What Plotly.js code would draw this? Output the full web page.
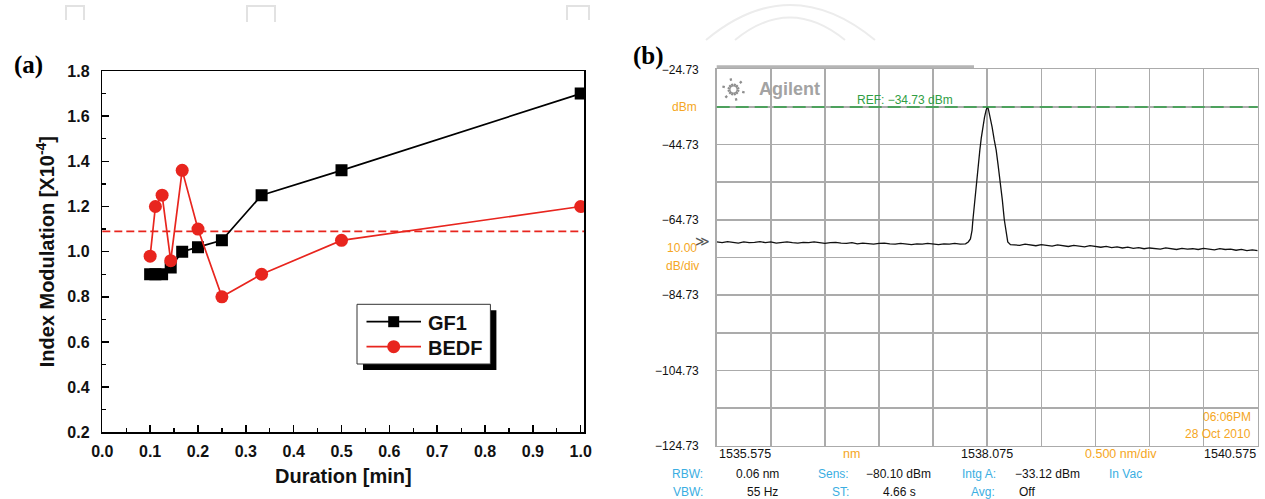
<!DOCTYPE html>
<html>
<head>
<meta charset="utf-8">
<script src="https://cdn.plot.ly/plotly-3.0.1.min.js"></script>
<style>html,body{margin:0;padding:0;background:#fff;}#chart{width:1265px;height:499px;}</style>
</head>
<body>
<div id="chart"></div>
<script>
// ---------- Panel (a) data ----------
const durationMin = [0.1, 0.111, 0.125, 0.143, 0.167, 0.2, 0.25, 0.333, 0.5, 1.0];
const gf1Index    = [0.90, 0.90, 0.90, 0.93, 1.00, 1.02, 1.05, 1.25, 1.36, 1.70];
const bedfIndex   = [0.98, 1.20, 1.25, 0.96, 1.36, 1.10, 0.80, 0.90, 1.05, 1.20];
const refIndexLevel = 1.09;
const seriesNames = ['GF1', 'BEDF'];

// ---------- Panel (b) data (OSA trace) ----------
const specWl = [
 1535.575,1535.625,1535.675,1535.725,1535.775,1535.825,1535.875,1535.925,1535.975,1536.025,
 1536.075,1536.125,1536.175,1536.225,1536.275,1536.325,1536.375,1536.425,1536.475,1536.525,
 1536.575,1536.625,1536.675,1536.725,1536.775,1536.825,1536.875,1536.925,1536.975,1537.025,
 1537.075,1537.125,1537.175,1537.225,1537.275,1537.325,1537.375,1537.425,1537.475,1537.525,
 1537.575,1537.625,1537.675,1537.725,1537.775,1537.825,1537.875,
 1537.900,1537.920,1537.935,1537.943,1537.950,1537.958,1537.970,1537.981,1537.995,1538.007,
 1538.020,1538.035,1538.050,1538.065,1538.075,1538.085,1538.100,1538.120,1538.140,1538.158,
 1538.175,1538.196,1538.215,1538.233,1538.250,1538.265,1538.290,
 1538.325,1538.375,1538.425,1538.475,1538.525,1538.575,1538.625,1538.675,1538.725,1538.775,
 1538.825,1538.875,1538.925,1538.975,1539.025,1539.075,1539.125,1539.175,1539.225,1539.275,
 1539.325,1539.375,1539.425,1539.475,1539.525,1539.575,1539.625,1539.675,1539.725,1539.775,
 1539.825,1539.875,1539.925,1539.975,1540.025,1540.075,1540.125,1540.175,1540.225,1540.275,
 1540.325,1540.375,1540.425,1540.475,1540.525,1540.575
];
const specDbm = [
 -70.6,-70.8,-70.5,-70.7,-70.9,-70.6,-70.8,-70.7,-70.5,-70.8,
 -70.6,-70.9,-70.7,-70.6,-70.8,-70.9,-70.7,-70.8,-70.6,-70.9,
 -71.0,-70.8,-70.7,-70.9,-71.0,-70.8,-71.1,-70.9,-71.0,-71.2,
 -71.0,-70.9,-71.1,-71.2,-71.0,-71.1,-71.3,-71.1,-71.2,-71.0,
 -71.2,-71.3,-71.1,-71.2,-71.0,-71.2,-71.1,
 -70.6,-69.8,-67.5,-64.7,-62.5,-61.3,-57.5,-54.6,-48.5,-46.2,
 -43.0,-40.0,-37.5,-35.6,-34.8,-35.2,-37.0,-40.0,-43.5,-46.2,
 -50.0,-54.6,-59.5,-64.7,-68.5,-70.6,-71.3,
 -71.3,-71.5,-71.2,-71.4,-71.6,-71.3,-71.5,-71.7,-71.4,-71.6,
 -71.8,-71.5,-71.7,-71.9,-71.6,-71.8,-72.0,-71.8,-72.1,-71.9,
 -72.2,-72.0,-72.3,-72.1,-72.4,-72.2,-72.3,-72.5,-72.2,-72.4,
 -72.6,-72.3,-72.5,-72.4,-72.6,-72.3,-72.5,-72.7,-72.4,-72.6,
 -72.5,-72.8,-72.6,-72.9,-72.7,-72.9
];
const refDbm = -34.73;
const wlStart = 1535.575, wlStop = 1540.575, wlPerDiv = 0.5;
const dbmBottom = -124.73, dbmTop = -24.73, dbPerDiv = 10;
const wlLabelVals = [1535.575, 1538.075, 1540.575];
const wlLabelText = ['1535.575', '1538.075', '1540.575'];

// ---------- helpers ----------
const W = 1265, H = 499;
const px = x => x / W;
const py = y => 1 - y / H;

const SANS = 'Liberation Sans, Arial, Helvetica, sans-serif';
const RED = '#e8251e';
const CYAN = '#3aaee2';
const ORANGE = '#f5a623';
const GRID = '#ababab';
const GREEN = '#2f9e44';
const seriesColors = ['#000', RED];

const traces = [
  {x: durationMin, y: gf1Index, name: seriesNames[0], xaxis: 'x', yaxis: 'y', type: 'scatter', mode: 'lines+markers',
   line: {color: seriesColors[0], width: 1.7}, marker: {symbol: 'square', size: 12, color: seriesColors[0]}, showlegend: false},
  {x: durationMin, y: bedfIndex, name: seriesNames[1], xaxis: 'x', yaxis: 'y', type: 'scatter', mode: 'lines+markers',
   line: {color: seriesColors[1], width: 1.7}, marker: {symbol: 'circle', size: 13, color: seriesColors[1]}, showlegend: false},
  {x: specWl, y: specDbm, name: 'Spectrum', xaxis: 'x2', yaxis: 'y2', type: 'scatter', mode: 'lines',
   line: {color: '#111', width: 1.3}, showlegend: false, hoverinfo: 'x+y'}
];

const tickFontA = {family: SANS, size: 16, color: '#111', weight: 'bold'};
const titleFontA = {family: SANS, size: 20, color: '#111', weight: 'bold'};

const shapes = [
  // panel (a) reference level (dashed red)
  {type: 'line', xref: 'x domain', yref: 'y', x0: 0, x1: 1, y0: refIndexLevel, y1: refIndexLevel,
   line: {color: RED, width: 1.6, dash: '8px,4px'}, layer: 'below'},
  // panel (b) REF line (green dashed)
  {type: 'line', xref: 'x2 domain', yref: 'y2', x0: 0, x1: 1, y0: refDbm, y1: refDbm,
   line: {color: GREEN, width: 1.6, dash: '13px,6px'}, layer: 'above'},
  // gray bar at top of OSA screen
  {type: 'rect', xref: 'paper', yref: 'paper', x0: px(716.7), x1: px(974), y0: py(68), y1: py(65.3),
   fillcolor: '#b5b5b5', line: {width: 0}},
  // faint watermark outlines at top
  {type: 'path', xref: 'paper', yref: 'paper', path: `M ${px(66)} ${py(20)} L ${px(66)} ${py(6)} L ${px(84)} ${py(6)} L ${px(84)} ${py(20)}`, line: {color: '#e2e2e2', width: 2}, layer: 'below'},
  {type: 'path', xref: 'paper', yref: 'paper', path: `M ${px(247)} ${py(22)} L ${px(247)} ${py(6)} L ${px(275)} ${py(6)} L ${px(275)} ${py(22)}`, line: {color: '#e2e2e2', width: 2}, layer: 'below'},
  {type: 'path', xref: 'paper', yref: 'paper', path: `M ${px(567)} ${py(20)} L ${px(567)} ${py(6)} L ${px(589)} ${py(6)} L ${px(589)} ${py(20)}`, line: {color: '#e2e2e2', width: 2}, layer: 'below'},
  {type: 'path', xref: 'paper', yref: 'paper', path: `M ${px(706)} ${py(40)} Q ${px(790)} ${py(-30)} ${px(875)} ${py(40)}`, line: {color: '#ececec', width: 2}, layer: 'below'},
  {type: 'path', xref: 'paper', yref: 'paper', path: `M ${px(735)} ${py(40)} Q ${px(790)} ${py(-5)} ${px(845)} ${py(40)}`, line: {color: '#ececec', width: 2}, layer: 'below'}
];

// ---------- legend box (panel a), drawn with shadow as in the reference ----------
const LG = {x0: 357, y0: 304.3, x1: 490.4, y1: 364, shadow: 6};
shapes.push({type: 'rect', xref: 'paper', yref: 'paper', x0: px(LG.x0 + LG.shadow), x1: px(LG.x1 + LG.shadow),
  y0: py(LG.y1 + LG.shadow), y1: py(LG.y0 + LG.shadow), fillcolor: '#000', line: {width: 0}, layer: 'above'});
shapes.push({type: 'rect', xref: 'paper', yref: 'paper', x0: px(LG.x0), x1: px(LG.x1), y0: py(LG.y1), y1: py(LG.y0),
  fillcolor: '#fff', line: {color: '#333', width: 1}, layer: 'above'});
const legendRows = [321.7, 346.7];
const legendSymbols = ['square', 'circle'];
const ann = [];
seriesNames.forEach((name, i) => {
  const yy = legendRows[i];
  shapes.push({type: 'line', xref: 'paper', yref: 'paper', x0: px(366.5), x1: px(421), y0: py(yy), y1: py(yy),
    line: {color: seriesColors[i], width: 1.7}, layer: 'above'});
  const half = legendSymbols[i] === 'square' ? 5.5 : 6.5;
  shapes.push({type: legendSymbols[i] === 'square' ? 'rect' : 'circle', xref: 'paper', yref: 'paper',
    x0: px(393.7 - half), x1: px(393.7 + half), y0: py(yy + half), y1: py(yy - half),
    fillcolor: seriesColors[i], line: {width: 0}, layer: 'above'});
  ann.push({text: name, xref: 'paper', yref: 'paper', x: px(426), y: py(yy + 1), xanchor: 'left', yanchor: 'middle',
    showarrow: false, font: {family: SANS, size: 20, color: '#111', weight: 'bold'}});
});

// Agilent starburst logo (decoration)
const cx = 733.5, cy = 89.5;
for (let k = 0; k < 12; k++) {
  const a = k * Math.PI / 6 + Math.PI / 12;
  const r1 = 3, r2 = (k % 2 === 0) ? 11.5 : 9;
  shapes.push({type: 'line', xref: 'paper', yref: 'paper',
    x0: px(cx + r1 * Math.cos(a)), y0: py(cy + r1 * Math.sin(a)),
    x1: px(cx + r2 * Math.cos(a)), y1: py(cy + r2 * Math.sin(a)),
    line: {color: '#8e8e8e', width: 2.2, dash: 'dot'}, layer: 'above'});
}

function txt(text, x, y, opts) {
  ann.push(Object.assign({text: text, xref: 'paper', yref: 'paper', x: px(x), y: py(y), showarrow: false,
    xanchor: 'left', yanchor: 'middle', font: {family: SANS, size: 12, color: '#111'}}, opts || {}));
}
// panel labels
txt('(a)', 12, 65, {font: {family: 'Liberation Serif, Times New Roman, serif', size: 25, color: '#000', weight: 'bold'}});
txt('(b)', 631, 56, {font: {family: 'Liberation Serif, Times New Roman, serif', size: 25, color: '#000', weight: 'bold'}});

// OSA labels
txt('Agilent', 757, 89, {font: {family: SANS, size: 18, color: '#a3a3a3', weight: 'bold'}});
txt('REF: −34.73 dBm', 904.5, 100, {xanchor: 'center', font: {family: SANS, size: 12, color: GREEN}});
txt('dBm', 699, 107.5, {xanchor: 'right', font: {family: SANS, size: 12, color: ORANGE}});
txt('10.00', 699, 248, {xanchor: 'right', font: {family: SANS, size: 12, color: ORANGE}});
txt('dB/div', 701, 265.5, {xanchor: 'right', font: {family: SANS, size: 12, color: ORANGE}});
txt('≫', 712, 241, {xanchor: 'right', font: {family: SANS, size: 14, color: '#555'}});
txt('06:06PM', 1253, 416.5, {xanchor: 'right', font: {family: SANS, size: 12, color: ORANGE}});
txt('28 Oct 2010', 1253, 433.5, {xanchor: 'right', font: {family: SANS, size: 12, color: ORANGE}});

// wavelength labels from axis data
const anchors = ['left', 'center', 'right'];
wlLabelVals.forEach((v, i) => {
  ann.push({text: wlLabelText[i], xref: 'x2', yref: 'paper', x: v, y: py(454), xanchor: anchors[i], yanchor: 'middle',
    showarrow: false, font: {family: SANS, size: 12.5, color: '#111'}});
});
ann.push({text: 'nm', xref: 'x2', yref: 'paper', x: 1536.822, y: py(454), xanchor: 'center', yanchor: 'middle',
  showarrow: false, font: {family: SANS, size: 12.5, color: ORANGE}});
ann.push({text: '0.500 nm/div', xref: 'x2', yref: 'paper', x: 1539.312, y: py(454), xanchor: 'center', yanchor: 'middle',
  showarrow: false, font: {family: SANS, size: 12.5, color: ORANGE}});

// settings rows
txt('RBW:', 705, 474, {xanchor: 'right', font: {family: SANS, size: 12, color: CYAN}});
txt('0.06 nm', 734, 474);
txt('Sens:', 851, 474, {xanchor: 'right', font: {family: SANS, size: 12, color: CYAN}});
txt('−80.10 dBm', 864, 474);
txt('Intg A:', 998, 474, {xanchor: 'right', font: {family: SANS, size: 12, color: CYAN}});
txt('−33.12 dBm', 1013, 474);
txt('In Vac', 1107, 474, {font: {family: SANS, size: 12, color: CYAN}});
txt('VBW:', 705, 491.5, {xanchor: 'right', font: {family: SANS, size: 12, color: CYAN}});
txt('55 Hz', 745, 491.5);
txt('ST:', 851, 491.5, {xanchor: 'right', font: {family: SANS, size: 12, color: CYAN}});
txt('4.66 s', 881, 491.5);
txt('Avg:', 997, 491.5, {xanchor: 'right', font: {family: SANS, size: 12, color: CYAN}});
txt('Off', 1017, 491.5);

const layout = {
  width: W, height: H,
  margin: {l: 0, r: 0, t: 0, b: 0},
  paper_bgcolor: '#fff', plot_bgcolor: '#fff',
  showlegend: false,
  xaxis: {domain: [px(102.3), px(584.3)], range: [0, 1.0075], anchor: 'y',
    tickmode: 'linear', tick0: 0, dtick: 0.1, tickformat: '.1f',
    ticks: 'inside', ticklen: 7, tickwidth: 1.4, tickcolor: '#000',
    minor: {ticks: 'inside', ticklen: 4, dtick: 0.05, tick0: 0, tickcolor: '#000', tickwidth: 1.2, showgrid: false},
    showline: true, linecolor: '#000', linewidth: 1.5, mirror: true, showgrid: false, zeroline: false,
    tickfont: tickFontA, ticklabelstandoff: 4,
    title: {text: 'Duration [min]', font: titleFontA, standoff: 10}},
  yaxis: {domain: [py(432.3), py(71)], range: [0.2, 1.8], anchor: 'x',
    tickmode: 'linear', tick0: 0.2, dtick: 0.2, tickformat: '.1f',
    ticks: 'inside', ticklen: 7, tickwidth: 1.4, tickcolor: '#000',
    minor: {ticks: 'inside', ticklen: 4, dtick: 0.1, tick0: 0.2, tickcolor: '#000', tickwidth: 1.2, showgrid: false},
    showline: true, linecolor: '#000', linewidth: 1.5, mirror: true, showgrid: false, zeroline: false,
    tickfont: tickFontA, ticklabelstandoff: 8,
    title: {text: 'Index Modulation [X10<sup>-4</sup>]', font: titleFontA, standoff: 7}},
  xaxis2: {domain: [px(716.7), px(1257.7)], range: [wlStart, wlStop], anchor: 'y2',
    tickmode: 'linear', tick0: wlStart, dtick: wlPerDiv, showticklabels: false, ticks: '',
    showgrid: true, gridcolor: GRID, gridwidth: 1.5,
    showline: true, linecolor: GRID, linewidth: 1.5, mirror: true, zeroline: false},
  yaxis2: {domain: [py(445.7), py(69.3)], range: [dbmBottom, dbmTop], anchor: 'x2',
    tickmode: 'linear', tick0: dbmBottom, dtick: 2 * dbPerDiv, tickformat: '.2f', ticks: '',
    tickfont: {family: SANS, size: 12, color: '#111'}, ticklabelstandoff: 14,
    showgrid: true, gridcolor: GRID, gridwidth: 1.5,
    minor: {tickmode: 'linear', tick0: dbmBottom, dtick: dbPerDiv, showgrid: true, gridcolor: GRID, gridwidth: 1.5, ticks: ''},
    showline: true, linecolor: GRID, linewidth: 1.5, mirror: true, zeroline: false},
  shapes: shapes,
  annotations: ann
};

Plotly.newPlot('chart', traces, layout, {displayModeBar: false, staticPlot: true});
</script>
</body>
</html>
